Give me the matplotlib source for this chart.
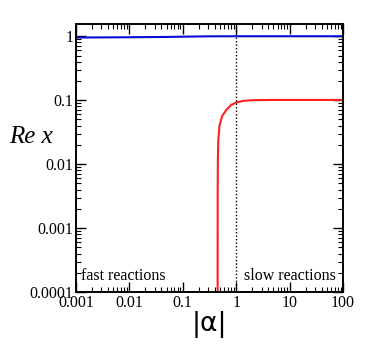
import matplotlib
matplotlib.use('Agg')
import matplotlib.pyplot as plt
from matplotlib.ticker import LogLocator, FixedLocator, FixedFormatter, NullFormatter

# Значения
blue_alpha = [0.001, 0.01, 0.05, 0.1, 0.3, 1.0, 10.0, 100.0]
blue_re = [0.955, 0.965, 0.975, 0.985, 0.997, 1.0, 1.0, 1.0]

red_alpha = [0.45, 0.451, 0.455, 0.465, 0.49, 0.55, 0.65, 0.8, 1.0, 1.4, 2.0, 5.0, 100.0]
red_re = [1e-4, 0.003, 0.012, 0.025, 0.041, 0.057, 0.07, 0.084, 0.092, 0.098, 0.1, 0.101, 0.101]

x_ticks = [0.001, 0.01, 0.1, 1, 10, 100]
x_labels = ['0.001', '0.01', '0.1', '1', '10', '100']
y_ticks = [0.0001, 0.001, 0.01, 0.1, 1]
y_labels = ['0.0001', '0.001', '0.01', '0.1', '1']

plt.rcParams['font.family'] = ['Liberation Serif', 'DejaVu Serif']

fig = plt.figure(figsize=(3.74, 3.44), dpi=100)
ax = fig.add_axes([0.203, 0.151, 0.714, 0.779])

ax.plot(blue_alpha, blue_re, color='#0a0ad8', lw=1.5)
ax.plot(red_alpha, red_re, color='#ff2020', lw=1.5)
ax.axvline(1.0, color='black', lw=1.0, ls=(0, (1, 1.5)))

ax.set_xscale('log')
ax.set_yscale('log')
ax.set_xlim(0.001, 100)
ax.set_ylim(0.0001, 1.55)

ax.xaxis.set_major_locator(FixedLocator(x_ticks))
ax.xaxis.set_major_formatter(FixedFormatter(x_labels))
ax.yaxis.set_major_locator(FixedLocator(y_ticks))
ax.yaxis.set_major_formatter(FixedFormatter(y_labels))
ax.xaxis.set_minor_locator(LogLocator(base=10, subs=range(2, 10), numticks=20))
ax.yaxis.set_minor_locator(LogLocator(base=10, subs=range(2, 10), numticks=20))
ax.xaxis.set_minor_formatter(NullFormatter())
ax.yaxis.set_minor_formatter(NullFormatter())

ax.tick_params(which='both', direction='in', top=True, right=True, labelsize=11.5, pad=2)
ax.tick_params(which='major', length=7.5, width=1.0)
ax.tick_params(which='minor', length=3.6, width=0.8)
for s in ax.spines.values():
    s.set_linewidth(1.4)

ax.text(0.00125, 0.000155, 'fast reactions', fontsize=11.5)
ax.text(75, 0.000155, 'slow reactions', fontsize=11.5, ha='right')

ax.set_ylabel('Re x', fontsize=18, style='italic', rotation=0, va='center', ha='center')
ax.yaxis.set_label_coords(-0.17, 0.58)
ax.set_xlabel('|α|', fontsize=19, family='DejaVu Sans', labelpad=0)

fig.savefig('out.png', dpi=100)
